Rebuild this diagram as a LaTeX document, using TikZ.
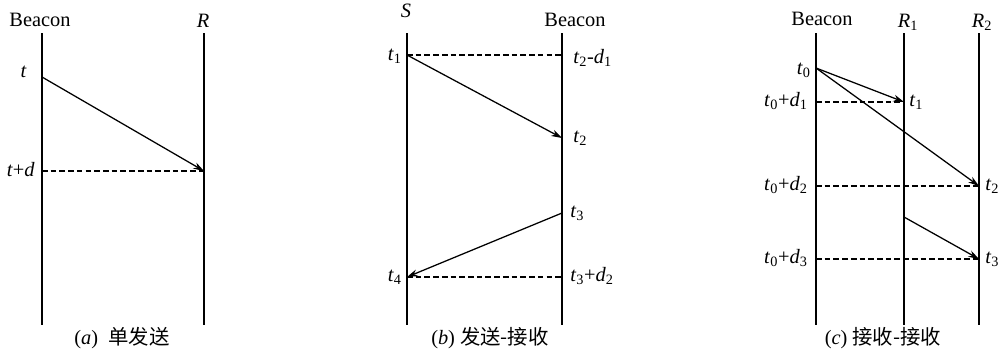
\documentclass[tikz,border=0pt]{standalone}
\usepackage{fontspec}
\setmainfont{Liberation Serif}
\newfontfamily\cjk{Noto Sans CJK SC}
\usetikzlibrary{arrows.meta, positioning}
\newcommand{\tsub}[1]{\textit{t}\textsubscript{#1}}
\newcommand{\dsub}[1]{\textit{d}\textsubscript{#1}}

\begin{document}
\begin{tikzpicture}[
        x=0.025cm, y=-0.025cm,
        font=\fontsize{14.5}{16}\selectfont,
        lifeline/.style={draw=black, line width=1.1pt},
        msg/.style={draw=black, line width=0.9pt, -{Stealth[length=2.7mm, width=1.7mm]}},
        sync/.style={draw=black, line width=0.9pt, dash pattern=on 4pt off 2.2pt},
        head/.style={inner sep=0pt, anchor=base},
        tleft/.style={inner sep=0pt, anchor=base east},
        tright/.style={inner sep=0pt, anchor=base west},
        caption/.style={inner sep=0pt, anchor=base}
    ]
        \useasboundingbox (0,0) rectangle (999,349);

        % (a) single send
        \node [head] (aBeacon) at (40,26) {Beacon};
        \node [head] (aR) at (203,27) {\textit{R}};
        \coordinate (aBtop) at (42,33);  \coordinate (aBbot) at (42,325);
        \coordinate (aRtop) at (204,33); \coordinate (aRbot) at (204,325);
        \draw[lifeline] (aBtop) -- (aBbot);
        \draw[lifeline] (aRtop) -- (aRbot);
        \coordinate (aSend) at (42,77);
        \coordinate (aRecv) at (204,171);
        \coordinate (aRef) at (42,171);
        \draw[msg] (aSend) -- (aRecv);
        \draw[sync] (aRef) -- (aRecv);
        \node [tleft] (at) at (27,77) {\textit{t}};
        \node [tleft] (atd) at (35,176) {\textit{t}+\textit{d}};
        \node [caption] (capA) at (122,344) {(\textit{a})\enspace{\cjk 单发送}};

        % (b) send-receive
        \node [head] (bS) at (406,17) {\textit{S}};
        \node [head] (bBeacon) at (575,26) {Beacon};
        \coordinate (bStop) at (407,33);  \coordinate (bSbot) at (407,325);
        \coordinate (bBtop) at (562,33);  \coordinate (bBbot) at (562,325);
        \draw[lifeline] (bStop) -- (bSbot);
        \draw[lifeline] (bBtop) -- (bBbot);
        \coordinate (bT1) at (407,55);
        \coordinate (bRef1) at (562,55);
        \coordinate (bT2) at (562,138);
        \coordinate (bT3) at (562,213);
        \coordinate (bT4) at (407,277);
        \coordinate (bRef2) at (562,277);
        \draw[sync] (bT1) -- (bRef1);
        \draw[msg] (bT1) -- (bT2);
        \draw[msg] (bT3) -- (bT4);
        \draw[sync] (bT4) -- (bRef2);
        \node [tleft] (bt1) at (402,60) {\tsub{1}};
        \node [tright] (btd1) at (573,63) {\tsub{2}-\dsub{1}};
        \node [tright] (bt2) at (573,142) {\tsub{2}};
        \node [tright] (bt3) at (570,217) {\tsub{3}};
        \node [tleft] (bt4) at (402,281) {\tsub{4}};
        \node [tright] (btd2) at (570,281) {\tsub{3}+\dsub{2}};
        \node [caption] (capB) at (490,344) {(\textit{b}) {\cjk 发送-接收}};

        % (c) receive-receive
        \node [head] (cBeacon) at (822,25) {Beacon};
        \node [head] (cR1) at (908,27) {\textit{R}\textsubscript{1}};
        \node [head] (cR2) at (982,27) {\textit{R}\textsubscript{2}};
        \coordinate (cBtop) at (816,33);  \coordinate (cBbot) at (816,325);
        \coordinate (cR1top) at (904,33); \coordinate (cR1bot) at (904,325);
        \coordinate (cR2top) at (979,33); \coordinate (cR2bot) at (979,325);
        \draw[lifeline] (cBtop) -- (cBbot);
        \draw[lifeline] (cR1top) -- (cR1bot);
        \draw[lifeline] (cR2top) -- (cR2bot);
        \coordinate (cT0) at (816,68);
        \coordinate (cT1) at (904,102);
        \coordinate (cT2) at (979,186);
        \coordinate (cFwd) at (904,217);
        \coordinate (cT3) at (979,259);
        \coordinate (cRef1) at (816,102);
        \coordinate (cRef2) at (816,186);
        \coordinate (cRef3) at (816,259);
        \draw[msg] (cT0) -- (cT1);
        \draw[msg] (cT0) -- (cT2);
        \draw[msg] (cFwd) -- (cT3);
        \draw[sync] (cRef1) -- (cT1);
        \draw[sync] (cRef2) -- (cT2);
        \draw[sync] (cRef3) -- (cT3);
        \node [tleft] (ct0) at (811,74) {\tsub{0}};
        \node [tleft] (ctd1) at (808,106) {\tsub{0}+\dsub{1}};
        \node [tleft] (ctd2) at (808,190) {\tsub{0}+\dsub{2}};
        \node [tleft] (ctd3) at (808,263) {\tsub{0}+\dsub{3}};
        \node [tright] (ct1) at (909,106) {\tsub{1}};
        \node [tright] (ct2) at (985,190) {\tsub{2}};
        \node [tright] (ct3) at (985,263) {\tsub{3}};
        \node [caption] (capC) at (883,344) {(\textit{c}) {\cjk 接收-接收}};
    \end{tikzpicture}
\end{document}
